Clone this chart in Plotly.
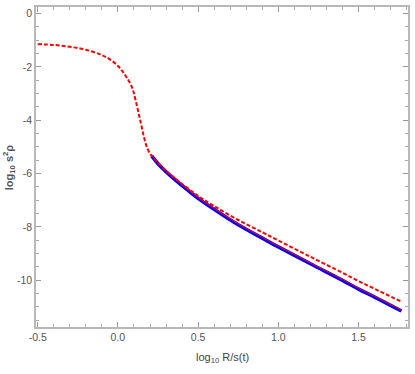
import plotly.graph_objects as go

# Red dashed curve (full range)
x_dash = [-0.5, -0.4, -0.3, -0.2, -0.1, -0.05, 0.0, 0.03, 0.06, 0.09, 0.1, 0.12, 0.135,
          0.15, 0.165, 0.18, 0.2, 0.21, 0.25, 0.3, 0.35, 0.4, 0.5, 0.6, 0.75, 0.9,
          1.0, 1.2, 1.4, 1.5, 1.6, 1.767]
y_dash = [-1.15, -1.18, -1.25, -1.36, -1.56, -1.72, -1.97, -2.18, -2.45, -2.8, -3.0, -3.5, -3.9,
          -4.3, -4.7, -5.0, -5.25, -5.33, -5.6, -5.9, -6.15, -6.39, -6.84, -7.22, -7.74, -8.2,
          -8.51, -9.12, -9.72, -10.03, -10.32, -10.80]

# Blue thick solid curve
x_blue = [0.21, 0.25, 0.3, 0.35, 0.4, 0.5, 0.6, 0.75, 0.9, 1.0, 1.2, 1.4, 1.5, 1.6, 1.767]
y_blue = [-5.34, -5.63, -5.93, -6.2, -6.45, -6.93, -7.34, -7.92, -8.42, -8.75, -9.38, -10.0,
          -10.33, -10.63, -11.15]

# Red thin solid curve (nearly on top of blue)
y_red = [-5.31, -5.60, -5.90, -6.17, -6.42, -6.90, -7.31, -7.89, -8.39, -8.72, -9.35, -9.97,
         -10.30, -10.60, -11.12]

x_ticks = [-0.5, 0.0, 0.5, 1.0, 1.5]
x_tick_text = ["-0.5", "0.0", "0.5", "1.0", "1.5"]
y_ticks = [0, -2, -4, -6, -8, -10]
y_tick_text = ["0", "-2", "-4", "-6", "-8", "-10"]

fig = go.Figure()
fig.add_trace(go.Scatter(x=x_blue, y=y_blue, mode="lines",
                         line=dict(color="#0000ff", width=3.6, shape="spline"), showlegend=False))
fig.add_trace(go.Scatter(x=x_blue, y=y_red, mode="lines",
                         line=dict(color="#ff0000", width=1.0, shape="spline"), showlegend=False))
fig.add_trace(go.Scatter(x=x_dash, y=y_dash, mode="lines",
                         line=dict(color="#ff0000", width=2.0, dash="4px,2px", shape="spline"),
                         showlegend=False))

axis_common = dict(
    showgrid=False, zeroline=False, showline=True, linecolor="#b8b8b8", linewidth=1.5,
    mirror="allticks", ticks="inside", ticklen=5, tickwidth=1, tickcolor="#999999",
    tickfont=dict(family="Liberation Sans", size=10.5, color="#555555"),
)

fig.update_xaxes(range=[-0.5105, 1.808], tickvals=x_ticks, ticktext=x_tick_text,
                 minor=dict(dtick=0.1, tick0=0, ticks="inside", ticklen=3, tickcolor="#aaaaaa"),
                 **axis_common)
fig.update_yaxes(range=[-11.75, 0.242], tickvals=y_ticks, ticktext=y_tick_text,
                 minor=dict(dtick=0.5, tick0=0, ticks="inside", ticklen=3, tickcolor="#aaaaaa"),
                 **axis_common)

fig.add_annotation(text="log<sub>10</sub> R/s(t)", xref="paper", yref="paper",
                   x=0.5, y=-0.096, showarrow=False, yanchor="middle", xanchor="center",
                   font=dict(family="Liberation Sans", size=11, color="#444444"))
fig.add_annotation(text="<b>log<sub>10</sub> s<sup>2</sup>ρ</b>", xref="paper", yref="paper",
                   x=-0.072, y=0.5, showarrow=False, textangle=-90, xanchor="center",
                   yanchor="middle",
                   font=dict(family="Liberation Sans", size=11, color="#555555"))

fig.update_layout(width=415, height=374, margin=dict(l=36, r=5, t=5, b=47),
                  paper_bgcolor="white", plot_bgcolor="white")

fig.write_html("out.html", config={"displayModeBar": False},
               post_script="document.body.style.margin='0';")
